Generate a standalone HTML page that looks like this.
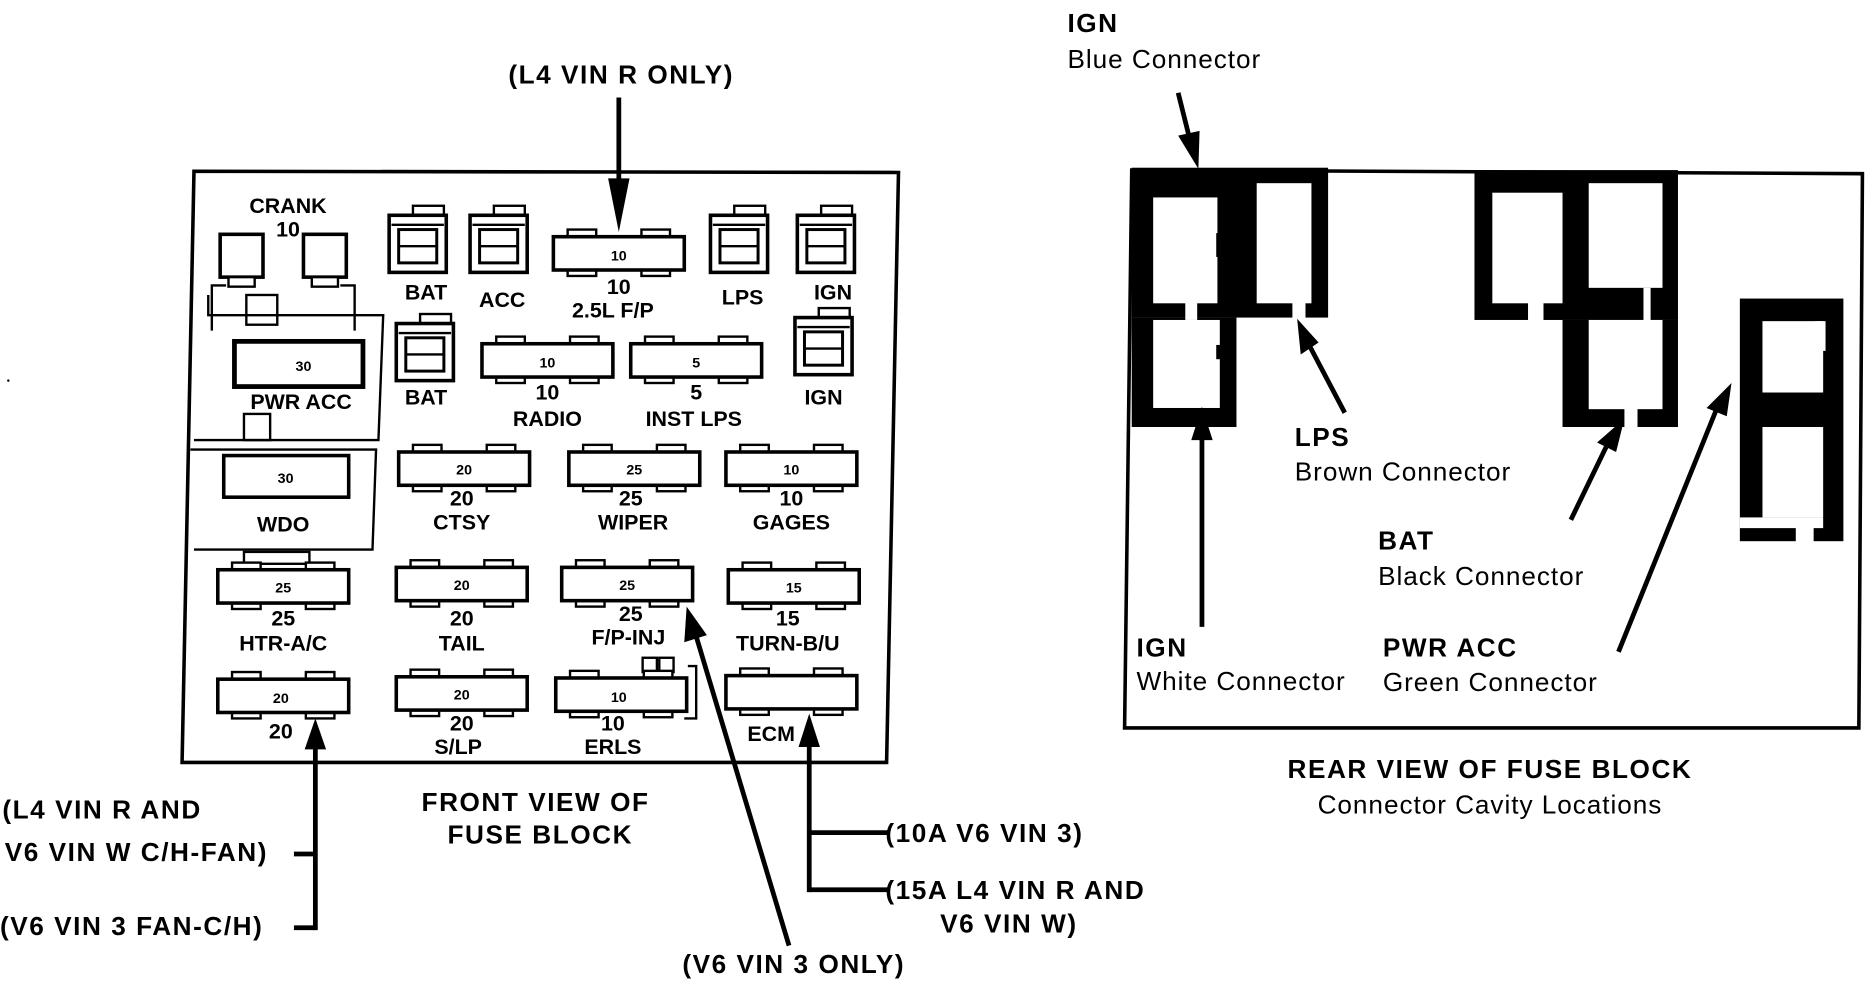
<!DOCTYPE html>
<html><head><meta charset="utf-8"><style>
html,body{margin:0;padding:0;background:#fff;width:1866px;height:992px;overflow:hidden}
svg{display:block}
text{font-family:"Liberation Sans",sans-serif;fill:#000}
.fl{font-weight:bold;font-size:18px}
.fn{font-weight:bold;font-size:12px}
.lb{font-weight:bold;font-size:22px;letter-spacing:1.3px}
.rl{font-size:22px;letter-spacing:0.8px}
</style></head><body>
<svg width="1866" height="992" viewBox="0 0 1568 834" preserveAspectRatio="none" xmlns="http://www.w3.org/2000/svg">
<defs>
<g id="fuse">
<rect x="12" y="-6" width="24" height="8" fill="#fff" stroke="#000" stroke-width="2"/>
<rect x="74" y="-6" width="24" height="8" fill="#fff" stroke="#000" stroke-width="2"/>
<rect x="12" y="26" width="24" height="7" fill="#fff" stroke="#000" stroke-width="2"/>
<rect x="74" y="26" width="24" height="7" fill="#fff" stroke="#000" stroke-width="2"/>
<rect x="0" y="0" width="110" height="28" fill="#fff" stroke="#000" stroke-width="3"/>
</g>
<g id="relay">
<rect x="20" y="-8" width="26" height="9" fill="#fff" stroke="#000" stroke-width="2"/>
<rect x="0" y="0" width="48" height="48" fill="#fff" stroke="#000" stroke-width="3"/>
<line x1="2" y1="8" x2="46" y2="8" stroke="#000" stroke-width="2"/>
<rect x="8" y="12" width="32" height="28" fill="#fff" stroke="#000" stroke-width="2.5"/>
<line x1="8" y1="26" x2="40" y2="26" stroke="#000" stroke-width="2"/>
</g>
</defs>

<polygon points="163,144 755,145 745,641 153,641" fill="none" stroke="#000" stroke-width="3"/>
<polyline points="175,248 175,265 322,265 318,370 163,370" fill="none" stroke="#000" stroke-width="2"/>
<polyline points="160,378 316,378 313,462 163,462" fill="none" stroke="#000" stroke-width="2"/>
<rect x="185" y="197" width="36" height="36" fill="#fff" stroke="#000" stroke-width="3"/>
<rect x="255" y="197" width="36" height="36" fill="#fff" stroke="#000" stroke-width="3"/>
<rect x="192" y="233" width="22" height="8" fill="#fff" stroke="#000" stroke-width="2"/>
<rect x="262" y="233" width="22" height="8" fill="#fff" stroke="#000" stroke-width="2"/>
<polyline points="178,278 178,240 190,240" fill="none" stroke="#000" stroke-width="2"/>
<polyline points="298,278 298,240 286,240" fill="none" stroke="#000" stroke-width="2"/>
<rect x="207" y="248" width="26" height="25" fill="none" stroke="#000" stroke-width="2"/>
<rect x="197" y="287" width="108" height="38" fill="#fff" stroke="#000" stroke-width="4"/>
<text x="255" y="312" class="fn" text-anchor="middle">30</text>
<text x="253" y="344" class="fl" text-anchor="middle">PWR ACC</text>
<rect x="205" y="348" width="22" height="22" fill="none" stroke="#000" stroke-width="2"/>
<text x="242" y="179" class="fl" text-anchor="middle">CRANK</text>
<text x="242" y="199" class="fl" text-anchor="middle">10</text>
<rect x="188" y="383" width="105" height="35" fill="#fff" stroke="#000" stroke-width="3"/>
<text x="240" y="406" class="fn" text-anchor="middle">30</text>
<text x="238" y="447" class="fl" text-anchor="middle">WDO</text>
<rect x="205" y="464" width="55" height="10" fill="#fff" stroke="#000" stroke-width="2"/>

<use href="#relay" x="327" y="181"/>
<use href="#relay" x="395" y="181"/>
<use href="#relay" x="597" y="181"/>
<use href="#relay" x="670" y="181"/>
<use href="#relay" x="333" y="272"/>
<use href="#relay" x="668" y="267"/>
<text x="358" y="252" class="fl" text-anchor="middle">BAT</text>
<text x="422" y="258" class="fl" text-anchor="middle">ACC</text>
<text x="624" y="256" class="fl" text-anchor="middle">LPS</text>
<text x="700" y="252" class="fl" text-anchor="middle">IGN</text>
<text x="358" y="340" class="fl" text-anchor="middle">BAT</text>
<text x="692" y="340" class="fl" text-anchor="middle">IGN</text>

<use href="#fuse" x="465" y="199"/><text x="520" y="219" class="fn" text-anchor="middle">10</text>
<text x="520" y="247" class="fl" text-anchor="middle">10</text><text x="515" y="267" class="fl" text-anchor="middle">2.5L F/P</text>
<use href="#fuse" x="405" y="289"/><text x="460" y="309" class="fn" text-anchor="middle">10</text>
<text x="460" y="336" class="fl" text-anchor="middle">10</text><text x="460" y="358" class="fl" text-anchor="middle">RADIO</text>
<use href="#fuse" x="530" y="289"/><text x="585" y="309" class="fn" text-anchor="middle">5</text>
<text x="585" y="336" class="fl" text-anchor="middle">5</text><text x="583" y="358" class="fl" text-anchor="middle">INST LPS</text>
<use href="#fuse" x="335" y="380"/><text x="390" y="399" class="fn" text-anchor="middle">20</text>
<text x="388" y="425" class="fl" text-anchor="middle">20</text><text x="388" y="445" class="fl" text-anchor="middle">CTSY</text>
<use href="#fuse" x="478" y="380"/><text x="533" y="399" class="fn" text-anchor="middle">25</text>
<text x="530" y="425" class="fl" text-anchor="middle">25</text><text x="532" y="445" class="fl" text-anchor="middle">WIPER</text>
<use href="#fuse" x="610" y="380"/><text x="665" y="399" class="fn" text-anchor="middle">10</text>
<text x="665" y="425" class="fl" text-anchor="middle">10</text><text x="665" y="445" class="fl" text-anchor="middle">GAGES</text>
<use href="#fuse" x="183" y="479"/><text x="238" y="498" class="fn" text-anchor="middle">25</text>
<text x="238" y="526" class="fl" text-anchor="middle">25</text><text x="238" y="547" class="fl" text-anchor="middle">HTR-A/C</text>
<use href="#fuse" x="333" y="477"/><text x="388" y="496" class="fn" text-anchor="middle">20</text>
<text x="388" y="526" class="fl" text-anchor="middle">20</text><text x="388" y="547" class="fl" text-anchor="middle">TAIL</text>
<use href="#fuse" x="472" y="477"/><text x="527" y="496" class="fn" text-anchor="middle">25</text>
<text x="530" y="522" class="fl" text-anchor="middle">25</text><text x="528" y="542" class="fl" text-anchor="middle">F/P-INJ</text>
<use href="#fuse" x="612" y="479"/><text x="667" y="498" class="fn" text-anchor="middle">15</text>
<text x="662" y="526" class="fl" text-anchor="middle">15</text><text x="662" y="547" class="fl" text-anchor="middle">TURN-B/U</text>
<use href="#fuse" x="183" y="571"/><text x="236" y="591" class="fn" text-anchor="middle">20</text>
<text x="236" y="621" class="fl" text-anchor="middle">20</text>
<use href="#fuse" x="333" y="569"/><text x="388" y="588" class="fn" text-anchor="middle">20</text>
<text x="388" y="614" class="fl" text-anchor="middle">20</text><text x="385" y="634" class="fl" text-anchor="middle">S/LP</text>
<rect x="540" y="553" width="12" height="12" fill="none" stroke="#000" stroke-width="2"/>
<rect x="554" y="553" width="12" height="12" fill="none" stroke="#000" stroke-width="2"/>
<polyline points="578,560 585,560 585,604 575,604" fill="none" stroke="#000" stroke-width="2"/>
<use href="#fuse" x="467" y="570"/><text x="520" y="590" class="fn" text-anchor="middle">10</text>
<text x="515" y="614" class="fl" text-anchor="middle">10</text><text x="515" y="634" class="fl" text-anchor="middle">ERLS</text>
<use href="#fuse" x="610" y="568"/>
<text x="648" y="623" class="fl" text-anchor="middle">ECM</text>

<line x1="520" y1="82" x2="520" y2="170" stroke="#000" stroke-width="4"/>
<polygon points="511,150 529,150 520,195" fill="#000"/>
<text x="522" y="70" class="lb" text-anchor="middle">(L4 VIN R ONLY)</text>

<line x1="265" y1="782" x2="265" y2="625" stroke="#000" stroke-width="4"/>
<polygon points="256,630 274,630 265,604" fill="#000"/>
<line x1="247" y1="718" x2="265" y2="718" stroke="#000" stroke-width="4"/>
<line x1="247" y1="780" x2="265" y2="780" stroke="#000" stroke-width="4"/>
<text x="2" y="688" class="lb">(L4 VIN R AND</text>
<text x="4" y="724" class="lb">V6 VIN W C/H-FAN)</text>
<text x="0" y="786" class="lb">(V6 VIN 3 FAN-C/H)</text>

<line x1="680" y1="750" x2="680" y2="620" stroke="#000" stroke-width="4"/>
<polygon points="671,628 689,628 680,600" fill="#000"/>
<line x1="680" y1="700" x2="746" y2="700" stroke="#000" stroke-width="4"/>
<line x1="680" y1="748" x2="746" y2="748" stroke="#000" stroke-width="4"/>
<text x="744" y="708" class="lb">(10A V6 VIN 3)</text>
<text x="744" y="756" class="lb">(15A L4 VIN R AND</text>
<text x="790" y="784" class="lb">V6 VIN W)</text>

<line x1="663" y1="795" x2="585" y2="535" stroke="#000" stroke-width="4"/>
<polygon points="575,540 594,534 577,510" fill="#000"/>
<text x="667" y="818" class="lb" text-anchor="middle">(V6 VIN 3 ONLY)</text>

<text x="450" y="682" class="lb" text-anchor="middle">FRONT VIEW OF</text>
<text x="454" y="709" class="lb" text-anchor="middle">FUSE BLOCK</text>
<circle cx="7" cy="320" r="1" fill="#000"/>

<polygon points="951,143 1565,146 1562,612 945,612" fill="none" stroke="#000" stroke-width="3"/>
<rect x="951" y="141" width="165" height="126" fill="#000"/>
<rect x="951" y="267" width="88" height="92" fill="#000"/>
<rect x="969" y="166" width="54" height="89" fill="#fff"/>
<rect x="1056" y="154" width="46" height="101" fill="#fff"/>
<rect x="969" y="269" width="56" height="74" fill="#fff"/>
<rect x="996" y="254" width="10" height="15" fill="#fff"/>
<rect x="1086" y="254" width="11" height="15" fill="#fff"/>
<rect x="1022" y="196" width="13" height="20" fill="#000"/>
<rect x="1022" y="290" width="12" height="12" fill="#000"/>
<rect x="1239" y="143" width="171" height="126" fill="#000"/>
<rect x="1313" y="269" width="97" height="90" fill="#000"/>
<rect x="1254" y="162" width="59" height="93" fill="#fff"/>
<rect x="1335" y="154" width="62" height="88" fill="#fff"/>
<rect x="1335" y="269" width="62" height="75" fill="#fff"/>
<rect x="1284" y="254" width="13" height="16" fill="#fff"/>
<rect x="1365" y="343" width="11" height="17" fill="#fff"/>
<rect x="1381" y="242" width="6" height="28" fill="#fff"/>
<rect x="1462" y="251" width="87" height="204" fill="#000"/>
<rect x="1481" y="270" width="51" height="60" fill="#fff"/>
<rect x="1481" y="359" width="51" height="76" fill="#fff"/>
<rect x="1462" y="435" width="70" height="9" fill="#fff"/>
<rect x="1509" y="443" width="15" height="13" fill="#fff"/>
<rect x="1525" y="270" width="9" height="25" fill="#fff"/>

<line x1="990" y1="78" x2="1000" y2="118" stroke="#000" stroke-width="4"/>
<polygon points="990,114 1008,110 1007,142" fill="#000"/>
<line x1="1010" y1="527" x2="1010" y2="365" stroke="#000" stroke-width="4"/>
<polygon points="1001,370 1019,370 1010,342" fill="#000"/>
<line x1="1130" y1="347" x2="1100" y2="290" stroke="#000" stroke-width="4"/>
<polygon points="1093,298 1108,288 1090,268" fill="#000"/>
<line x1="1320" y1="437" x2="1350" y2="375" stroke="#000" stroke-width="4"/>
<polygon points="1342,372 1358,380 1365,352" fill="#000"/>
<line x1="1360" y1="548" x2="1442" y2="345" stroke="#000" stroke-width="4"/>
<polygon points="1434,343 1451,350 1455,322" fill="#000"/>

<text x="897" y="27" class="lb">IGN</text>
<text x="897" y="57" class="rl">Blue Connector</text>
<text x="1088" y="375" class="lb">LPS</text>
<text x="1088" y="404" class="rl">Brown Connector</text>
<text x="1158" y="462" class="lb">BAT</text>
<text x="1158" y="492" class="rl">Black Connector</text>
<text x="955" y="552" class="lb">IGN</text>
<text x="955" y="580" class="rl">White Connector</text>
<text x="1162" y="552" class="lb">PWR ACC</text>
<text x="1162" y="581" class="rl">Green Connector</text>
<text x="1252" y="654" class="lb" text-anchor="middle">REAR VIEW OF FUSE BLOCK</text>
<text x="1252" y="684" class="rl" text-anchor="middle">Connector Cavity Locations</text>
</svg>
</body></html>
